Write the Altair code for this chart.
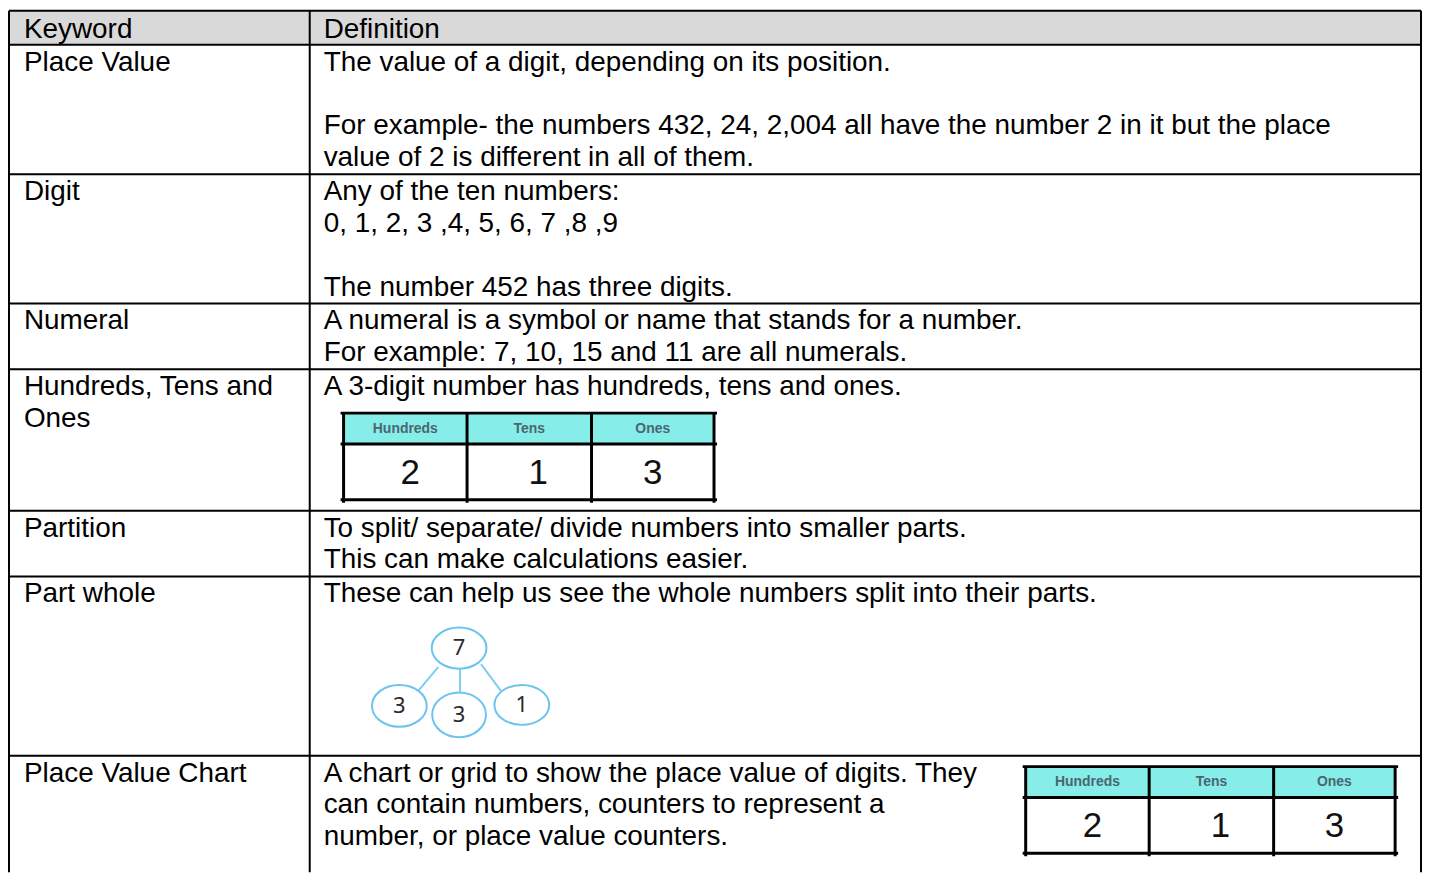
import altair as alt
import pandas as pd

# ---------------- content ----------------
header = ["Keyword", "Definition"]
keywords = [
    ["Place Value"],
    ["Digit"],
    ["Numeral"],
    ["Hundreds, Tens and", "Ones"],
    ["Partition"],
    ["Part whole"],
    ["Place Value Chart"],
]
definitions = [
    ["The value of a digit, depending on its position.", "",
     "For example- the numbers 432, 24, 2,004 all have the number 2 in it but the place",
     "value of 2 is different in all of them."],
    ["Any of the ten numbers:", "0, 1, 2, 3 ,4, 5, 6, 7 ,8 ,9", "",
     "The number 452 has three digits."],
    ["A numeral is a symbol or name that stands for a number.",
     "For example: 7, 10, 15 and 11 are all numerals."],
    ["A 3-digit number has hundreds, tens and ones."],
    ["To split/ separate/ divide numbers into smaller parts.",
     "This can make calculations easier."],
    ["These can help us see the whole numbers split into their parts."],
    ["A chart or grid to show the place value of digits. They",
     "can contain numbers, counters to represent a",
     "number, or place value counters."],
]
place_names = ["Hundreds", "Tens", "Ones"]
place_digits = ["2", "1", "3"]
part_whole_values = ["7", "3", "3", "1"]

# ---------------- layout (page pixels) ----------------
W, H = 1422, 865
X0, Y0 = 8, 8
table_left, table_mid, table_right = 9, 311, 1427
table_top, header_bottom = 8, 42
row_tops = [42, 172, 302, 368, 510, 576, 756]
table_bottom = Y0 + H
first_baseline = 26
line_step = 32
text_x = [24, 325]

pv_tables = [
    {"cols": [345, 469, 594, 717], "rows": [412, 443, 499]},
    {"cols": [1030, 1154, 1279, 1401], "rows": [767, 798, 854]},
]
digit_dx = [5, 9, 0]

pw_centers = [(461, 648), (401, 706), (461, 715), (524, 705)]
pw_width = [55, 55, 54, 55]
pw_ratio = [0.75, 0.76, 0.83, 0.73]
pw_links = [((440, 667), (420, 691)), ((462, 668), (462, 693)), ((483, 664), (503, 691))]

# ---------------- tables for marks ----------------
xs = alt.Scale(domain=[X0, X0 + W], nice=False, zero=False)
ys = alt.Scale(domain=[Y0, Y0 + H], nice=False, zero=False, reverse=True)


def X(f):
    return alt.X(f, type="quantitative", scale=xs, axis=None)


def Y(f):
    return alt.Y(f, type="quantitative", scale=ys, axis=None)


def X2(f):
    return alt.X2(f)


def Y2(f):
    return alt.Y2(f)


# main text
texts = []
texts.append({"x": text_x[0], "y": table_top + 27, "t": header[0]})
texts.append({"x": text_x[1], "y": table_top + 27, "t": header[1]})
for top, kw, df in zip(row_tops, keywords, definitions):
    for i, line in enumerate(kw):
        if line:
            texts.append({"x": text_x[0], "y": top + first_baseline + i * line_step, "t": line})
    for i, line in enumerate(df):
        if line:
            texts.append({"x": text_x[1], "y": top + first_baseline + i * line_step, "t": line})
texts = pd.DataFrame(texts)

# main grid lines
segs = []
for yy in [table_top, header_bottom] + row_tops[1:]:
    segs.append({"x": table_left, "x2": table_right, "y": yy, "y2": yy})
for xx in [table_left, table_mid, table_right]:
    segs.append({"x": xx, "x2": xx, "y": table_top, "y2": table_bottom})
segs = pd.DataFrame(segs)

header_bg = pd.DataFrame([{"x": table_left, "x2": table_right, "y": table_top, "y2": header_bottom}])

# place value tables
pv_fill, pv_lines, pv_head, pv_dig = [], [], [], []
for tb in pv_tables:
    c, r = tb["cols"], tb["rows"]
    pv_fill.append({"x": c[0], "x2": c[3], "y": r[0], "y2": r[1]})
    for yy in r:
        pv_lines.append({"x": c[0] - 3, "x2": c[3] + 3, "y": yy, "y2": yy})
    for xx in c:
        pv_lines.append({"x": xx, "x2": xx, "y": r[0], "y2": r[2] + 3})
    for k in range(3):
        cx = (c[k] + c[k + 1]) / 2
        pv_head.append({"x": cx, "y": (r[0] + r[1]) / 2, "t": place_names[k]})
        pv_dig.append({"x": cx + digit_dx[k], "y": (r[1] + r[2]) / 2 + 1, "t": place_digits[k]})
pv_fill = pd.DataFrame(pv_fill)
pv_lines = pd.DataFrame(pv_lines)
pv_head = pd.DataFrame(pv_head)
pv_dig = pd.DataFrame(pv_dig)

# part-whole
pw_nodes = pd.DataFrame([
    {"x": cx, "y": cy, "t": v, "size": w * w,
     "shape": f"M -1 0 A 1 {r} 0 1 1 1 0 A 1 {r} 0 1 1 -1 0 Z"}
    for (cx, cy), w, r, v in zip(pw_centers, pw_width, pw_ratio, part_whole_values)
])
pw_edges = pd.DataFrame([
    {"x": a[0], "y": a[1], "x2": b[0], "y2": b[1]} for a, b in pw_links
])

FONT = "Liberation Sans"

l_header = alt.Chart(header_bg).mark_rect(color="#d9d9d9").encode(
    x=X("x"), x2=X2("x2"), y=Y("y"), y2=Y2("y2"))
l_pvfill = alt.Chart(pv_fill).mark_rect(color="#86ede8").encode(
    x=X("x"), x2=X2("x2"), y=Y("y"), y2=Y2("y2"))
l_grid = alt.Chart(segs).mark_rule(color="black", strokeWidth=2).encode(
    x=X("x"), x2=X2("x2"), y=Y("y"), y2=Y2("y2"))
l_pvlines = alt.Chart(pv_lines).mark_rule(color="black", strokeWidth=3).encode(
    x=X("x"), x2=X2("x2"), y=Y("y"), y2=Y2("y2"))
l_pwedges = alt.Chart(pw_edges).mark_rule(color="#7fcdf0", strokeWidth=2).encode(
    x=X("x"), x2=X2("x2"), y=Y("y"), y2=Y2("y2"))
l_pwnodes = alt.Chart(pw_nodes).mark_point(
    filled=False, stroke="#6cc4ee", strokeWidth=2, fill="white", fillOpacity=1, opacity=1
).encode(
    x=X("x"), y=Y("y"),
    size=alt.Size("size:Q", scale=None),
    shape=alt.Shape("shape:N", scale=None),
)
l_pwtext = alt.Chart(pw_nodes).mark_text(
    font="Noto Sans", fontSize=22, color="#2a2a2a", align="center", baseline="middle"
).encode(x=X("x"), y=Y("y"), text="t:N")
l_text = alt.Chart(texts).mark_text(
    font=FONT, fontSize=28, color="black", align="left", baseline="alphabetic"
).encode(x=X("x"), y=Y("y"), text="t:N")
l_pvhead = alt.Chart(pv_head).mark_text(
    font=FONT, fontSize=14, fontWeight="bold", color="#4a6670", align="center", baseline="middle"
).encode(x=X("x"), y=Y("y"), text="t:N")
l_pvdig = alt.Chart(pv_dig).mark_text(
    font=FONT, fontSize=35, color="#111111", align="center", baseline="middle"
).encode(x=X("x"), y=Y("y"), text="t:N")

chart = alt.layer(
    l_header, l_pvfill, l_grid, l_pvlines, l_pwedges, l_pwnodes, l_pwtext,
    l_text, l_pvhead, l_pvdig
).properties(
    width=W, height=H, padding=0, background="white"
).configure_view(stroke=None)

chart.save("out.html", embed_options={"renderer": "svg", "actions": False})
